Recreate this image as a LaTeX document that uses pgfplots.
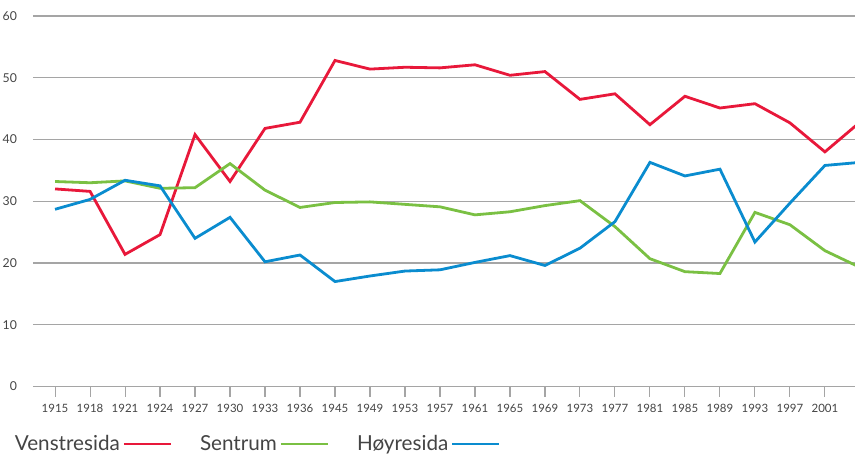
\documentclass[border=0pt]{standalone}
\usepackage{fontspec}
\setmainfont{Lato}
\usepackage{pgfplots}
\pgfplotsset{compat=1.18}

\definecolor{vred}{RGB}{232,24,58}
\definecolor{sgreen}{RGB}{122,192,67}
\definecolor{hblue}{RGB}{10,140,207}
\definecolor{gridgray}{RGB}{165,165,165}
\definecolor{txtgray}{RGB}{68,68,68}

\begin{document}
\begin{tikzpicture}
% 1px = 0.75pt, origin at the axis' lower left corner
\useasboundingbox (-24.75pt,-50.6pt) rectangle (616.5pt,289.9pt);
\begin{axis}[
  at={(0,0)}, anchor=south west,
  scale only axis,
  width=616.5pt, height=277.9pt,
  xmin=-0.63, xmax=22.86,
  ymin=0, ymax=60,
  clip=true,
  axis line style={draw=none},
  ytick={0,10,...,60},
  ymajorgrids,
  grid style={gridgray, line width=0.8pt},
  xtick={0,...,22},
  xticklabels={1915,1918,1921,1924,1927,1930,1933,1936,1945,1949,1953,1957,1961,1965,1969,1973,1977,1981,1985,1989,1993,1997,2001},
  xtick pos=bottom,
  tick align=outside,
  major tick length=7.5pt,
  x tick style={gridgray, line width=0.8pt},
  y tick style={draw=none},
  ticklabel style={font=\fontsize{8.6}{10}\selectfont, text=txtgray},
  xticklabel style={yshift=-2pt},
  yticklabel style={xshift=-1pt, font=\fontsize{9.2}{10}\selectfont},
  /pgf/number format/assume math mode=true,
  legend plot pos=right,
  legend columns=3,
  legend style={draw=none, fill=none, inner sep=0pt,
    at={(axis description cs:-0.0256,-0.186)}, anchor=south west,
    font=\fontsize{15.5}{18}\selectfont, text=txtgray,
    /tikz/every even column/.append style={column sep=19pt}},
  legend image code/.code={\draw[#1] (0pt,0pt) -- (35pt,0pt);},
  every axis plot/.append style={line width=2.1pt},
]
% Venstresida
\addplot[vred] coordinates {
  (0,32.0) (1,31.6) (2,21.4) (3,24.6) (4,40.8) (5,33.2) (6,41.8) (7,42.8)
  (8,52.8) (9,51.4) (10,51.7) (11,51.6) (12,52.1) (13,50.4) (14,51.0)
  (15,46.5) (16,47.4) (17,42.4) (18,47.0) (19,45.1) (20,45.8) (21,42.7)
  (22,38.0) (23,42.8)
};
\addlegendentry{Venstresida}
% Sentrum
\addplot[sgreen] coordinates {
  (0,33.2) (1,33.0) (2,33.3) (3,32.1) (4,32.2) (5,36.1) (6,31.8) (7,29.0)
  (8,29.8) (9,29.9) (10,29.5) (11,29.1) (12,27.8) (13,28.3) (14,29.3)
  (15,30.1) (16,25.9) (17,20.7) (18,18.6) (19,18.3) (20,28.2) (21,26.2)
  (22,22.0) (23,19.3)
};
\addlegendentry{Sentrum}
% Høyresida
\addplot[hblue] coordinates {
  (0,28.7) (1,30.3) (2,33.4) (3,32.5) (4,24.0) (5,27.4) (6,20.2) (7,21.3)
  (8,17.0) (9,17.9) (10,18.7) (11,18.9) (12,20.1) (13,21.2) (14,19.6)
  (15,22.4) (16,26.7) (17,36.3) (18,34.1) (19,35.2) (20,23.4) (21,29.7)
  (22,35.8) (23,36.3)
};
\addlegendentry{Høyresida}
\end{axis}
\end{tikzpicture}
\end{document}
